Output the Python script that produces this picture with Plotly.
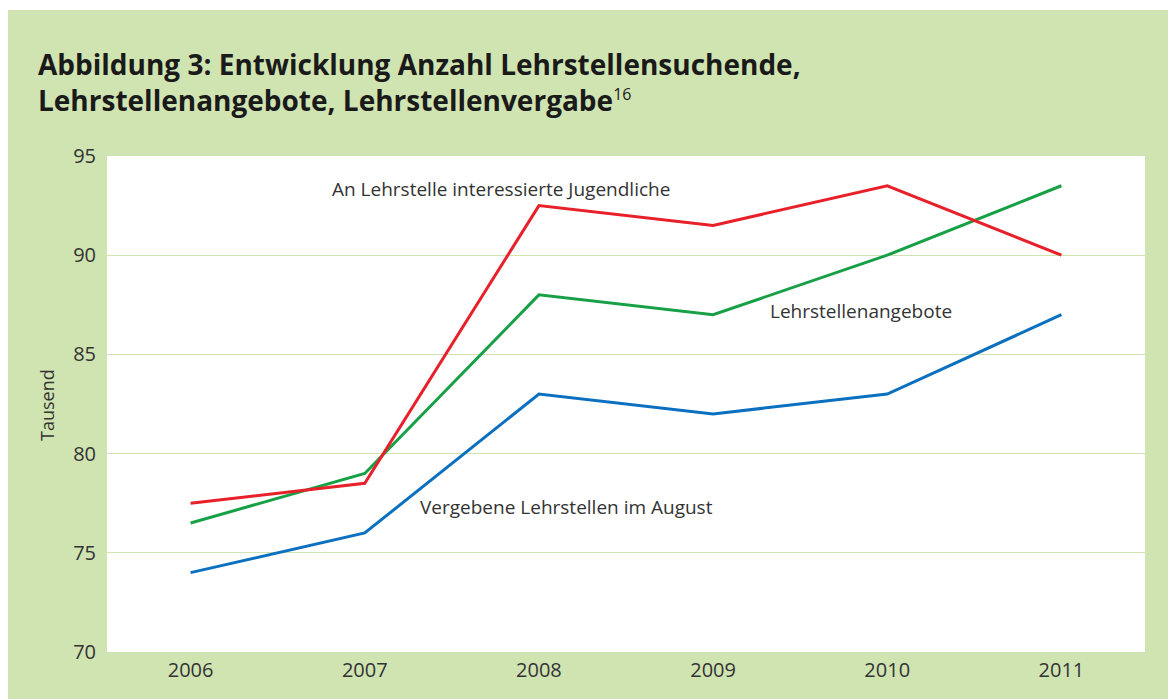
import plotly.graph_objects as go

years = [2006, 2007, 2008, 2009, 2010, 2011]
interessierte = [77.5, 78.5, 92.5, 91.5, 93.5, 90.0]
angebote = [76.5, 79.0, 88.0, 87.0, 90.0, 93.5]
vergeben = [74.0, 76.0, 83.0, 82.0, 83.0, 87.0]
y_ticks = [70, 75, 80, 85, 90, 95]

# page body has an 8px margin; figure coords = screen coords - 8
OFF = 8
W, H = 1176, 699
L, T = 107 - OFF, 156 - OFF
pw, ph = 1038, 496
R = W - L - pw
B = H - T - ph

def px_x(px):
    return (px - OFF - L) / pw

def px_y(py):
    return (T + ph - (py - OFF)) / ph

FONT = "Open Sans"
GREEN_BG = "#d0e4b2"
TXT = "#333333"

fig = go.Figure()
fig.add_trace(go.Scatter(x=years, y=vergeben, mode="lines",
                         line=dict(color="#0a70bf", width=3), showlegend=False))
fig.add_trace(go.Scatter(x=years, y=angebote, mode="lines",
                         line=dict(color="#17a046", width=3), showlegend=False))
fig.add_trace(go.Scatter(x=years, y=interessierte, mode="lines",
                         line=dict(color="#e8202a", width=3), showlegend=False))

fig.update_layout(
    width=W, height=H,
    margin=dict(l=L, r=R, t=T, b=B),
    paper_bgcolor=GREEN_BG,
    plot_bgcolor="white",
    font=dict(family=FONT, size=19, color=TXT),
    xaxis=dict(range=[2005.52, 2011.48], tickvals=years, ticktext=[str(y) for y in years],
               showgrid=False, zeroline=False, showline=False, ticks="",
               tickfont=dict(size=20, color=TXT), ticklabelstandoff=4,
               fixedrange=True),
    yaxis=dict(range=[70, 95], tickvals=y_ticks, showgrid=True, gridcolor=GREEN_BG,
               gridwidth=1, zeroline=False, showline=False, ticks="",
               tickfont=dict(size=20, color=TXT), ticklabelstandoff=10),
    shapes=[
        dict(type="rect", xref="paper", yref="paper", x0=px_x(-20), x1=px_x(8),
             y0=px_y(H + 20), y1=px_y(-20), fillcolor="white", line=dict(width=0), layer="above"),
        dict(type="rect", xref="paper", yref="paper", x0=px_x(-20), x1=px_x(W + 20),
             y0=px_y(10), y1=px_y(-20), fillcolor="white", line=dict(width=0), layer="above"),
        dict(type="line", xref="paper", yref="y", x0=0, x1=1, y0=95, y1=95,
             line=dict(color="white", width=2), layer="above"),
    ],
    annotations=[
        dict(xref="paper", yref="paper", x=px_x(36), y=px_y(43), xanchor="left", yanchor="top",
             align="left", showarrow=False,
             text="Abbildung 3: Entwicklung Anzahl Lehrstellensuchende,<br>"
                  "Lehrstellenangebote, Lehrstellenvergabe<sup><span style='font-weight:normal;font-size:16px'>16</span></sup>",
             font=dict(family=FONT, size=28, color="#1a1a1a", weight="bold")),
        dict(xref="paper", yref="paper", x=px_x(47), y=px_y(405), textangle=-90,
             xanchor="center", yanchor="middle",
             text="Tausend", showarrow=False, font=dict(size=18, color=TXT)),
        dict(x=2007.78, y=93.34, text="An Lehrstelle interessierte Jugendliche", showarrow=False,
             font=dict(size=19, color=TXT)),
        dict(x=2009.85, y=87.19, text="Lehrstellenangebote", showarrow=False,
             font=dict(size=19, color=TXT)),
        dict(x=2008.16, y=77.31, text="Vergebene Lehrstellen im August", showarrow=False,
             font=dict(size=19, color=TXT)),
    ],
)

fig.write_html("out.html")
